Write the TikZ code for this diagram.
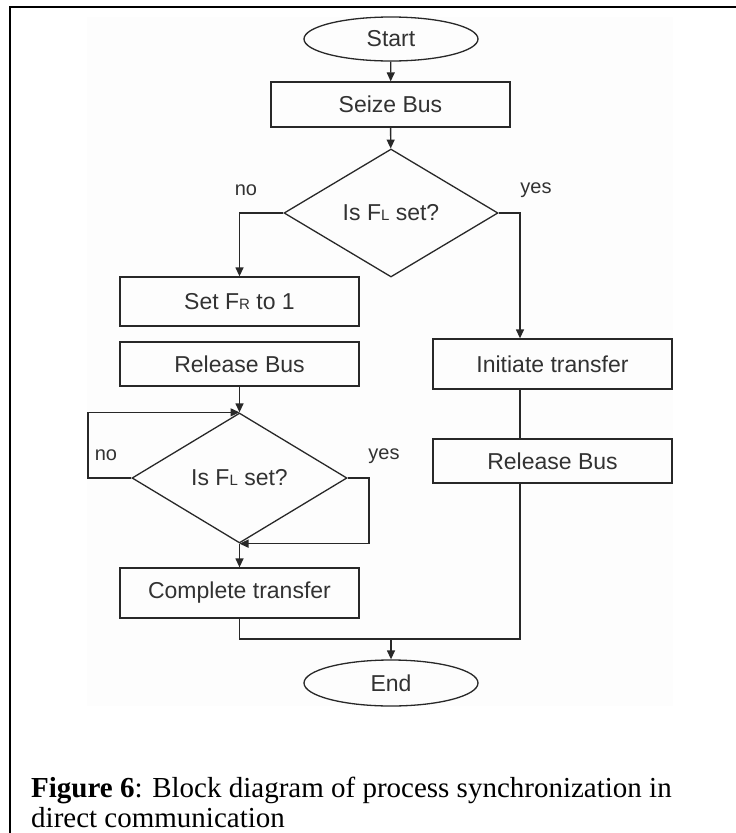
\documentclass[tikz,border=0pt]{standalone}
\usepackage{fontspec}
\setmainfont{Liberation Serif}
\newfontfamily\diagfont{Liberation Sans}
\usetikzlibrary{shapes.geometric,arrows.meta}
\definecolor{ink}{RGB}{40,40,40}
\definecolor{txt}{RGB}{50,50,50}
\definecolor{panel}{RGB}{253,253,253}
\newcommand{\lowcap}[1]{{\fontsize{15}{15}\selectfont #1}}
\begin{document}
\begin{tikzpicture}[x=1pt,y=-1pt,
  every node/.style={font=\diagfont\fontsize{23}{26}\selectfont, text=txt},
  box/.style={draw=ink, line width=1.3pt, rectangle, inner sep=0pt, minimum width=239pt},
  term/.style={draw=ink, line width=1.3pt, ellipse, inner sep=0pt, minimum width=174pt, minimum height=44pt},
  test/.style={draw=ink, line width=1.3pt, diamond, inner sep=0pt},
  link/.style={draw=ink, line width=1.3pt},
  arr/.style={link, -{Triangle[length=9pt,width=8pt]}},
  lbl/.style={font=\diagfont\fontsize{20}{22}\selectfont}]
\useasboundingbox (0,0) rectangle (736,833);
% light panel behind the flow chart
\fill[panel] (87,17) rectangle (673,706);
% page frame
\draw[black, line width=2pt] (10,7) -- (737,7);
\draw[black, line width=1.5pt] (10,6) -- (10,834);

% main column
\node[term] (start) at (391,39) {Start};
\node[box, minimum height=45pt] (seize) at (390.5,104.5) {Seize Bus};
\node[test, minimum width=214pt, minimum height=128pt] (d1) at (391,213) {Is F\lowcap{L} set?};

% left column
\node[box, minimum height=49pt] (setfr) at (239.5,301.5) {Set F\lowcap{R} to 1};
\node[box, minimum height=44pt] (rel1) at (239.5,364) {Release Bus};
\node[test, minimum width=215pt, minimum height=130pt] (d2) at (239.5,478) {Is F\lowcap{L} set?};
\node[box, minimum height=50pt] (comp) at (239.5,593) {Complete transfer};

% right column
\node[box, minimum height=50pt] (init) at (552.5,364) {Initiate transfer};
\node[box, minimum height=44pt] (rel2) at (552.5,461) {Release Bus};

\node[term, minimum height=46pt] (stop) at (391,683) {End};

% routing guides
\coordinate (rx) at (520,0);
\coordinate (lx) at (88,0);
\coordinate (yx) at (369,0);
\coordinate (j) at (391,639);

% labels
\node[lbl] (no1) at (246,190) {no};
\node[lbl] (yes1) at (536,190) {yes};
\node[lbl] (no2) at (106,455) {no};
\node[lbl] (yes2) at (384,456) {yes};

% connectors
\draw[arr] (start) -- (seize);
\draw[arr] (seize) -- (d1);
\draw[arr] (d1.west) -| (setfr.north);
\draw[arr] (d1.east) -| (rx |- init.north);
\draw[link] (rx |- init.south) -- (rx |- rel2.north);
\draw[arr] (rel1) -- (d2);
\draw[arr] (d2.west) -- (lx |- d2.west) |- (d2.north);
\draw[arr] (d2.east) -- (yx |- d2.east) |- (d2.south);
\draw[arr] (d2.south) -- (comp.north);
\draw[link] (comp.south) |- (j) -| (rx |- rel2.south);
\draw[arr] (j) -- (stop.north);

% caption
\node[anchor=base west, inner sep=0pt, font=\fontsize{29}{33}\selectfont, text=black] (cap1) at (31,797)
  {\textbf{Figure 6}: Block diagram of process synchronization in};
\node[anchor=base west, inner sep=0pt, font=\fontsize{29}{33}\selectfont, text=black] (cap2) at (31,827)
  {direct communication};
\end{tikzpicture}
\end{document}
